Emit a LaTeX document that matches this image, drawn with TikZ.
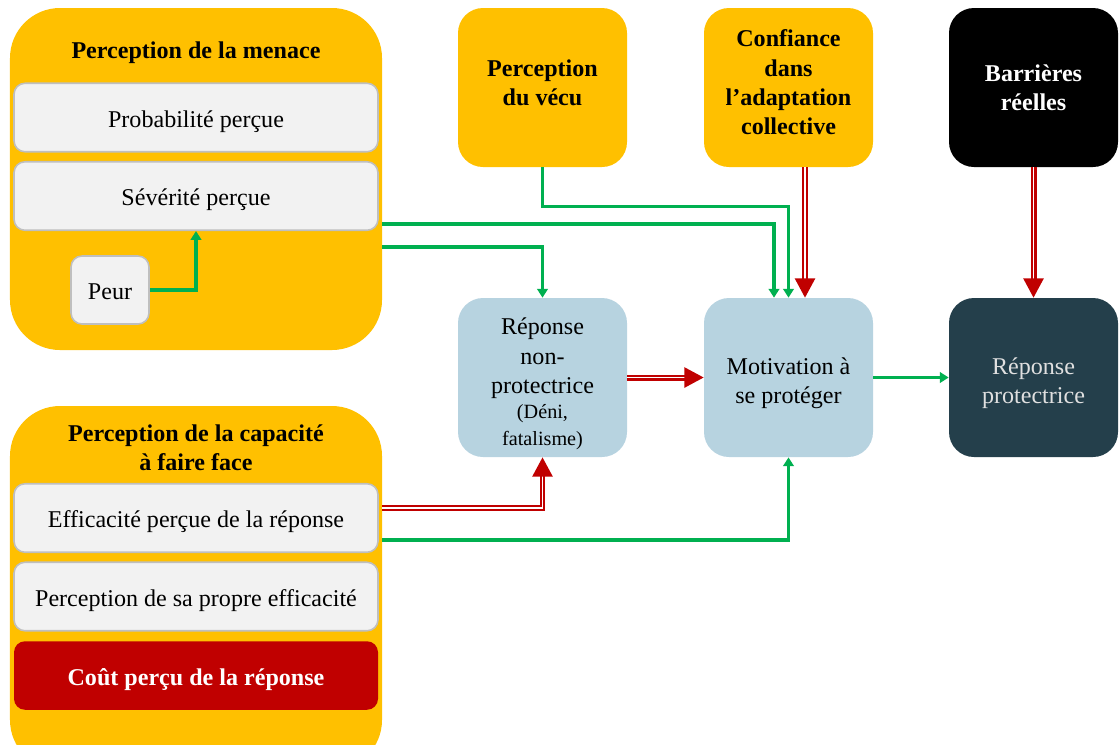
\documentclass[tikz,border=0pt]{standalone}
\usepackage{fontspec}
\setmainfont{Liberation Serif}
\usetikzlibrary{
    arrows.meta,
    positioning
}
% struts to move a box text up or down
\newcommand{\pushdown}[1]{\rule{0pt}{#1}}
\newcommand{\pushup}[1]{\rule[-#1]{0pt}{#1}}

\begin{document}
\begin{tikzpicture}
    [line cap=round,
    % Styles
    base text/.style={font=\fontsize{13.7pt}{16.7pt}\selectfont,align=center,inner sep=0pt},
    bold text/.style={font=\fontsize{13.7pt}{16.7pt}\selectfont\bfseries},
    big group/.style={rectangle,rounded corners=1cm,fill=yellowgroup,minimum width=7.44cm},
    item box/.style={base text,rectangle,rounded corners=0.22cm,fill=itemgrey,draw=itemborder,
        line width=0.9pt,minimum width=7.28cm,minimum height=1.37cm,
        text height=10.8pt,text depth=0pt},
    factor box/.style={base text,rectangle,rounded corners=0.5cm,minimum width=3.38cm,minimum height=3.18cm},
    good link/.style={draw=linkgreen,line width=2pt,line cap=butt,-{Triangle[width=6pt,length=5pt]}},
    bad link/.style={draw=linkred,line width=1.15pt,double=white,double distance=1.1pt,line cap=butt,
        -{Triangle[width=11.5pt,length=11pt,fill=linkred]}}]

    % Colors
    \definecolor{yellowgroup}{HTML}{FFC000}
    \definecolor{itemgrey}{HTML}{F2F2F2}
    \definecolor{itemborder}{HTML}{BFBFBF}
    \definecolor{costred}{HTML}{C00000}
    \definecolor{linkred}{HTML}{C00000}
    \definecolor{linkgreen}{HTML}{00B050}
    \definecolor{paleblue}{HTML}{B7D3E0}
    \definecolor{darkslate}{HTML}{243F4B}

    \useasboundingbox (0,0) rectangle (22.38,-14.88);
    \clip (0,0) rectangle (22.38,-14.88);

    % threat appraisal group
    \node[big group,minimum height=6.84cm] (threat) at (3.92,-3.58) {};
    \node[base text,bold text] (threat title) at (3.92,-1.06) {Perception de la menace};
    \node[item box] (prob) at (3.92,-2.35) {Probabilité perçue};
    \node[item box] (sev) at (3.92,-3.92) {Sévérité perçue};
    \node[item box,minimum width=1.56cm,minimum height=1.36cm] (peur) at (2.2,-5.8) {Peur};

    % coping appraisal group
    \node[big group,minimum height=7.28cm] (coping) at (3.92,-11.76) {};
    \node[base text,bold text] (coping title) at (3.92,-8.96) {Perception de la capacité\\ à faire face};
    \node[item box] (eff) at (3.92,-10.36) {Efficacité perçue de la réponse};
    \node[item box] (selfeff) at (3.92,-11.93) {Perception de sa propre efficacité};
    \node[item box,bold text,fill=costred,draw=none,text=white] (cout) at (3.92,-13.51)
        {Coût perçu de la réponse};

    % top row
    \node[factor box,bold text,fill=yellowgroup] (vecu) at (10.85,-1.75)
        {Perception\\ du vécu\pushup{5.7pt}};
    \node[factor box,bold text,fill=yellowgroup] (conf) at (15.77,-1.75)
        {Confiance\\ dans\\ l’adaptation\\ collective\pushup{5.7pt}};
    \node[factor box,bold text,fill=black,text=white] (barr) at (20.67,-1.75) {Barrières\\ réelles};

    % middle row
    \node[factor box,fill=paleblue] (nonprot) at (10.85,-7.55)
        {\pushdown{16.7pt}Réponse\\ non-\\ protectrice\\[-2.3pt]
         {\fontsize{11.5pt}{13.5pt}\selectfont (Déni,}\\[-1.7pt]
         {\fontsize{11.5pt}{13.5pt}\selectfont fatalisme)}};
    \node[factor box,fill=paleblue] (motiv) at (15.77,-7.55) {\pushdown{16.1pt}Motivation à\\ se protéger};
    \node[factor box,fill=darkslate,text=white!88!black] (protect) at (20.67,-7.55)
        {\pushdown{16.1pt}Réponse\\ protectrice};

    % green links
    \draw[good link] (peur.east) -| (sev.south);
    \draw[good link] ([yshift=-0.9cm]threat.east) -| ([xshift=-0.29cm]motiv.north);
    \draw[good link] ([yshift=-1.36cm]threat.east) -| (nonprot.north);
    \draw[good link] (vecu.south) -- ++(0,-0.78) -| (motiv.north);
    \draw[good link] ([yshift=0.96cm]coping.east) -| (motiv.south);
    \draw[good link] (motiv.east) -- (protect.west);

    % red links
    \draw[bad link] ([xshift=0.33cm]conf.south) -- ([xshift=0.33cm]motiv.north);
    \draw[bad link] (barr.south) -- (protect.north);
    \draw[bad link] (nonprot.east) -- (motiv.west);
    \draw[bad link] ([yshift=1.6cm]coping.east) -| (nonprot.south);
\end{tikzpicture}
\end{document}
